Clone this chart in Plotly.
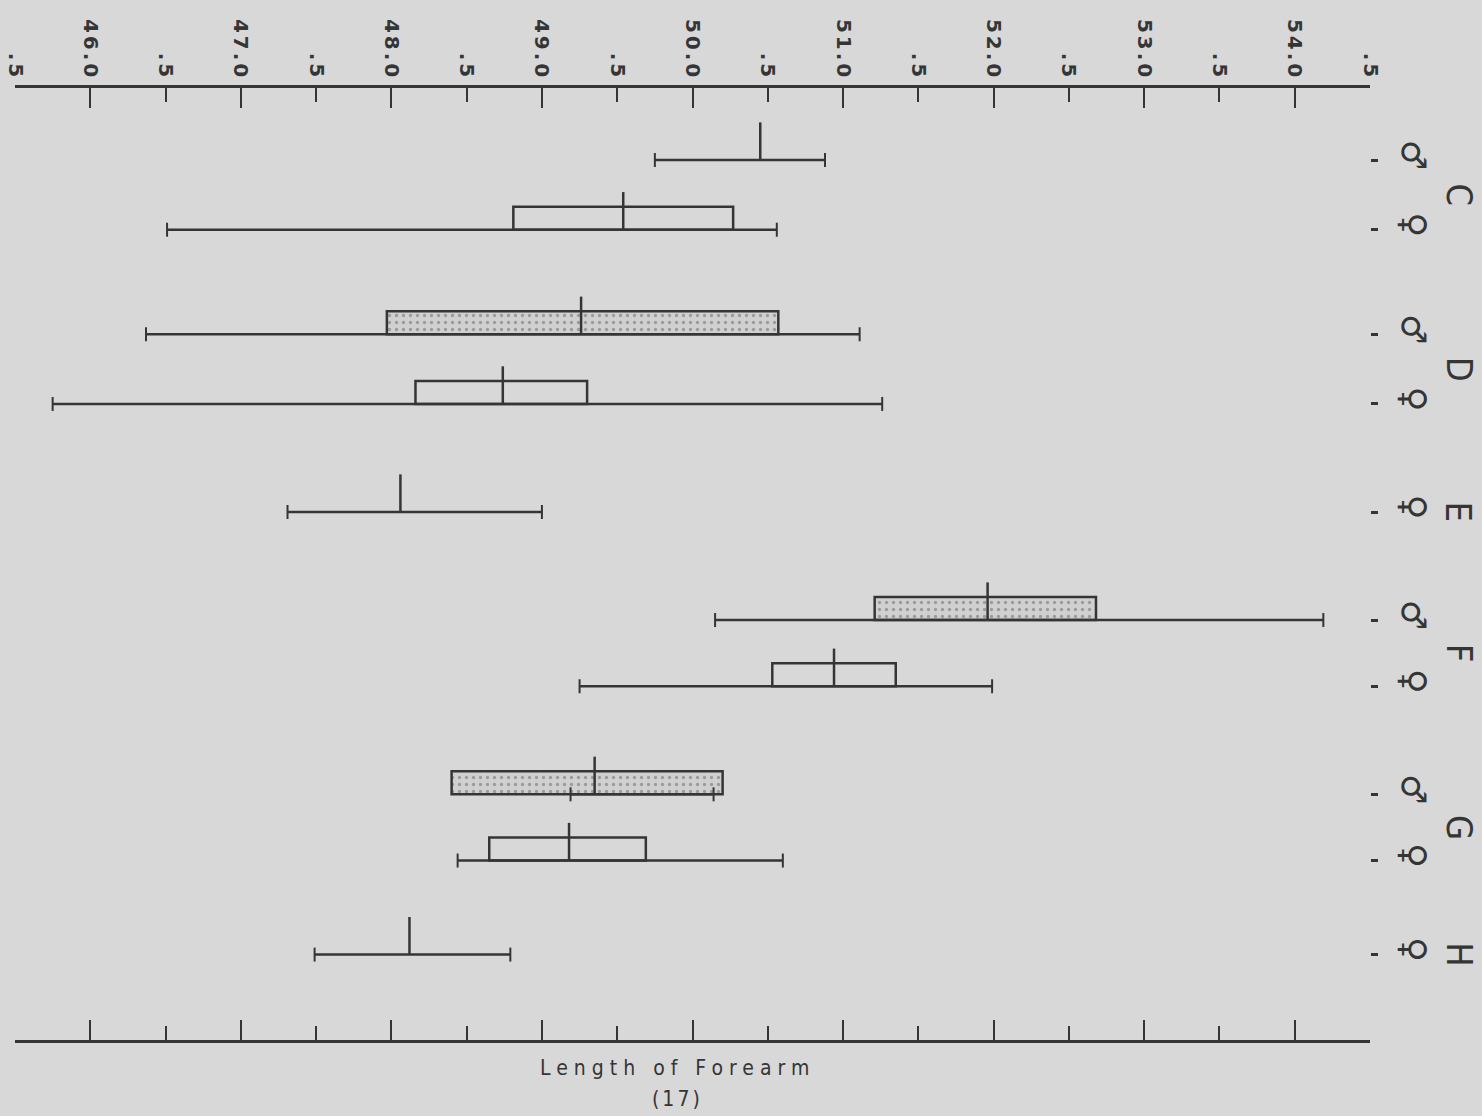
import plotly.graph_objects as go

# ---- data ----
groups = ["C", "C", "D", "D", "E", "F", "F", "G", "G", "H"]
sexes = ["♂", "♀", "♂", "♀", "♀", "♂", "♀", "♂", "♀", "♀"]
row_y = [0, 1, 2.5, 3.5, 5.05, 6.6, 7.55, 9.1, 10.05, 11.4]
range_min = [49.75, 46.51, 46.37, 45.75, 47.31, 50.15, 49.25, 49.19, 48.44, 47.49]
range_max = [50.88, 50.56, 51.11, 51.26, 49.00, 54.19, 51.99, 50.14, 50.60, 48.79]
means = [50.45, 49.54, 49.26, 48.74, 48.06, 51.96, 50.94, 49.35, 49.18, 48.12]
box_lo = [None, 48.81, 47.97, 48.16, None, 51.21, 50.53, 48.40, 48.65, None]
box_hi = [None, 50.27, 50.57, 49.30, None, 52.68, 51.35, 50.20, 49.69, None]
stippled = [False, False, True, False, False, True, False, True, False, False]

top_vals = [45.5 + 0.5 * i for i in range(19)]
top_text = [".5" if v % 1 else f"{v:.1f}" for v in top_vals]
whole_vals = [v for v in top_vals if v % 1 == 0]
half_vals = [v for v in top_vals if v % 1]

ink = "#353535"
bg = "#d8d8d8"
box_h = 0.33
tick_h = 0.54

fig = go.Figure()

# boxes
for i in range(len(groups)):
    if box_lo[i] is None:
        continue
    fig.add_trace(go.Bar(
        y=[row_y[i] - box_h / 2], x=[box_hi[i] - box_lo[i]], base=[box_lo[i]],
        width=[box_h], orientation="h",
        marker=dict(
            color="#cfcfcf" if stippled[i] else "rgba(0,0,0,0)",
            line=dict(color=ink, width=2.5),
            pattern=dict(shape="." if stippled[i] else "", fgcolor="#666666",
                         bgcolor="#d0d0d0", size=7, solidity=0.18),
        ),
        hoverinfo="skip",
    ))

# range lines
lx, ly = [], []
for i in range(len(groups)):
    lx += [range_min[i], range_max[i], None]
    ly += [row_y[i], row_y[i], None]
fig.add_trace(go.Scatter(x=lx, y=ly, mode="lines", line=dict(color=ink, width=2.5),
                         hoverinfo="skip"))
# range end ticks
ex, ey = [], []
for i in range(len(groups)):
    ex += [range_min[i], range_max[i]]
    ey += [row_y[i], row_y[i]]
fig.add_trace(go.Scatter(x=ex, y=ey, mode="markers",
                         marker=dict(symbol="line-ns", size=10,
                                     line=dict(color=ink, width=2)),
                         hoverinfo="skip"))
# mean ticks
mx, my = [], []
for i in range(len(groups)):
    mx += [means[i], means[i], None]
    my += [row_y[i], row_y[i] - tick_h, None]
fig.add_trace(go.Scatter(x=mx, y=my, mode="lines", line=dict(color=ink, width=2.5),
                         hoverinfo="skip"))

# invisible traces for extra axes
fig.add_trace(go.Scatter(x=[50], y=[0], xaxis="x2", mode="markers",
                         marker=dict(opacity=0), hoverinfo="skip"))
fig.add_trace(go.Scatter(x=[50], y=[0], xaxis="x3", mode="markers",
                         marker=dict(opacity=0), hoverinfo="skip"))

# group letters
seen = []
for g in groups:
    if g in seen:
        continue
    seen.append(g)
    ys = [row_y[i] for i in range(len(groups)) if groups[i] == g]
    fig.add_annotation(x=1.066, xref="paper", y=sum(ys) / len(ys), yref="y",
                       xanchor="center", yanchor="middle",
                       text=g, showarrow=False, textangle=90,
                       font=dict(family="DejaVu Sans Condensed", size=36, color=ink))

fig.add_annotation(x=0.4886, xref="paper", y=-0.0294, yref="paper",
                   xanchor="center", yanchor="middle",
                   text='<span style="letter-spacing:6px">Length of Forearm</span>',
                   showarrow=False,
                   font=dict(family="DejaVu Sans Condensed", size=21, color=ink))
fig.add_annotation(x=0.4886, xref="paper", y=-0.0615, yref="paper",
                   xanchor="center", yanchor="middle",
                   text='<span style="letter-spacing:3px">(17)</span>', showarrow=False,
                   font=dict(family="DejaVu Sans Condensed", size=21, color=ink))

top_text_sp = ['<span style="letter-spacing:3px">%s</span>' % t for t in top_text]

axis_common = dict(range=[45.5, 54.5], showgrid=False, zeroline=False,
                   tickcolor=ink, tickwidth=2, automargin=False)
fig.update_layout(
    width=1482, height=1116,
    margin=dict(l=15, r=112, t=88, b=76),
    paper_bgcolor=bg, plot_bgcolor=bg,
    showlegend=False, barmode="overlay",
    xaxis=dict(**axis_common, side="top", anchor="y", showline=True, linecolor=ink,
               linewidth=2.5, ticks="inside", ticklen=14, tickvals=top_vals,
               ticktext=top_text_sp, tickangle=90, ticklabelstandoff=-2,
               tickfont=dict(family="DejaVu Sans", size=20, color=ink, weight="bold")),
    xaxis2=dict(**axis_common, overlaying="x", side="bottom", anchor="y",
                showline=True, linecolor=ink, linewidth=2.5, ticks="inside",
                ticklen=20, tickvals=whole_vals, showticklabels=False,
                minor=dict(tickvals=half_vals, ticks="inside", ticklen=14,
                           tickcolor=ink, tickwidth=2)),
    xaxis3=dict(**axis_common, overlaying="x", side="top", anchor="y",
                showline=False, ticks="inside", ticklen=20, tickvals=whole_vals,
                showticklabels=False),
    yaxis=dict(range=[12.625, -1.033], side="right", anchor="x", showgrid=False,
               zeroline=False, showline=False, ticks="outside", ticklen=7,
               tickwidth=2.5, tickcolor=ink, tickvals=row_y, ticktext=sexes,
               tickangle=90, ticklabelstandoff=10, automargin=False,
               tickfont=dict(family="DejaVu Sans", size=34, color=ink, weight="bold")),
)

fig.write_html(
    "out.html",
    config={"displayModeBar": False},
    post_script="document.body.style.margin='0';"
                "document.body.style.background='%s';" % bg,
)
